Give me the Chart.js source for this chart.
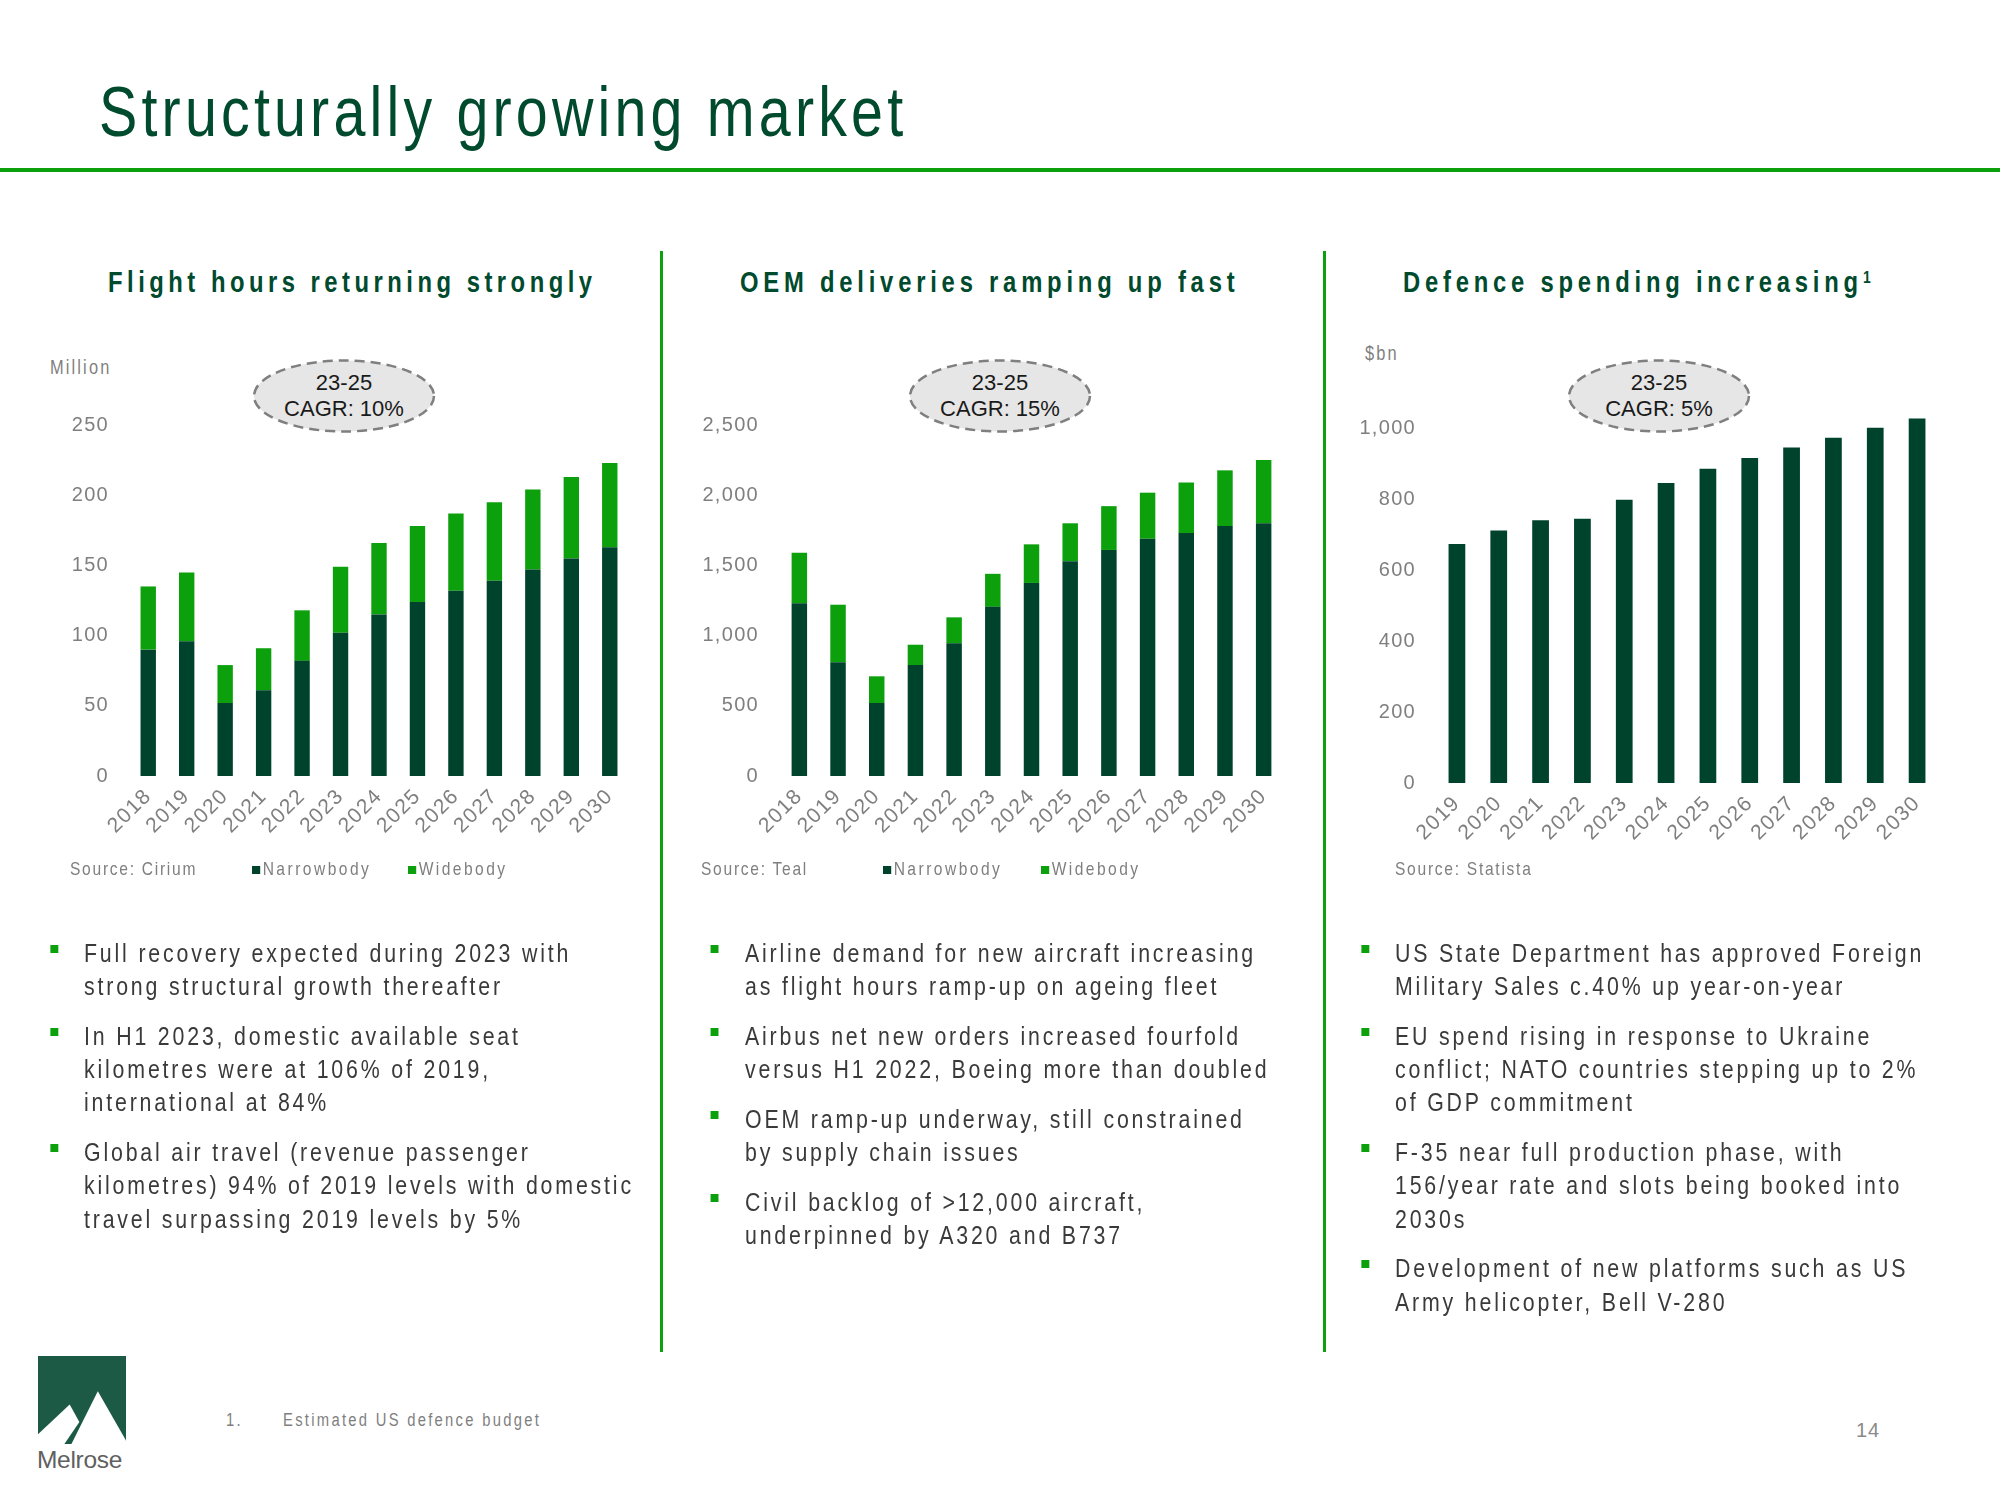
<!DOCTYPE html>
<html>
<head>
<meta charset="utf-8">
<script src="https://cdn.jsdelivr.net/npm/chart.js@4.4.1/dist/chart.umd.min.js"></script>
<style>
  body { margin:0; width:2000px; height:1500px; background:#fff; position:relative; overflow:hidden;
         font-family:'Liberation Sans Narrow','Liberation Sans',Arial,sans-serif; }
  .abs { position:absolute; white-space:nowrap; }
  /* no narrow face installed, so squeeze the regular one */
  .narrow { transform:scaleX(0.82); transform-origin:0 0; }
  #title { left:99px; top:77px; font-size:70px; line-height:70px; color:#004a2e; letter-spacing:5.1px; }
  #rule { left:0; top:168px; width:2000px; height:4px; background:#0ca00c; }
  .divider { top:251px; width:3px; height:1101px; background:#0ca00c; }
  .sub { top:265px; font-size:29px; line-height:34px; font-weight:bold; color:#004a2e; letter-spacing:5.5px; }
  .sub sup { font-size:17px; letter-spacing:0; vertical-align:top; position:relative; top:-4px; }
  .unit { font-size:20px; line-height:24px; color:#7f7f7f; letter-spacing:2.6px; }
  .legend { top:857px; font-size:19px; line-height:24px; color:#7f7f7f; letter-spacing:2.1px; }
  .legend.series { letter-spacing:3px; }
  .sq { display:inline-block; width:10px; height:8px; margin-right:3px; vertical-align:1px; }
  .bubble-text { font-family:'Liberation Sans',Arial,sans-serif; font-size:22px; line-height:26px; color:#1a1a1a; text-align:center; transform:translateX(-50%); }
  .col { top:937px; font-size:26px; line-height:33.2px; color:#3a3a3a; letter-spacing:3.45px; }
  .col p { margin:0 0 16.6px 0; position:relative; }
  .col p::before { content:''; position:absolute; width:10.4px; height:8.5px; background:#0ca00c; top:7.5px; left:var(--bx); }
  canvas { position:absolute; }
</style>
</head>
<body>
<div id="title" class="abs narrow">Structurally growing market</div>
<div id="rule" class="abs"></div>
<div class="abs divider" style="left:660px"></div>
<div class="abs divider" style="left:1323px"></div>

<div class="abs sub narrow" style="left:108px">Flight hours returning strongly</div>
<div class="abs sub narrow" style="left:740px;letter-spacing:5.85px">OEM deliveries ramping up fast</div>
<div class="abs sub narrow" style="left:1403px;letter-spacing:5.85px">Defence spending increasing<sup>1</sup></div>

<div class="abs unit narrow" style="left:50px;top:355px">Million</div>
<div class="abs unit narrow" style="left:1365px;top:341px">$bn</div>

<svg class="abs" style="left:252px;top:358px" width="184" height="76"><ellipse cx="92" cy="38" rx="90" ry="35.5" fill="#e6e6e6" stroke="#7f7f7f" stroke-width="2.5" stroke-dasharray="10 6"/></svg>
<svg class="abs" style="left:908px;top:358px" width="184" height="76"><ellipse cx="92" cy="38" rx="90" ry="35.5" fill="#e6e6e6" stroke="#7f7f7f" stroke-width="2.5" stroke-dasharray="10 6"/></svg>
<svg class="abs" style="left:1567px;top:358px" width="184" height="76"><ellipse cx="92" cy="38" rx="90" ry="35.5" fill="#e6e6e6" stroke="#7f7f7f" stroke-width="2.5" stroke-dasharray="10 6"/></svg>
<div class="abs bubble-text" style="left:344px;top:370px">23-25<br>CAGR: 10%</div>
<div class="abs bubble-text" style="left:1000px;top:370px">23-25<br>CAGR: 15%</div>
<div class="abs bubble-text" style="left:1659px;top:370px">23-25<br>CAGR: 5%</div>

<canvas id="flightChart" width="610" height="470" style="left:40px;top:400px"></canvas>
<canvas id="oemChart" width="620" height="470" style="left:680px;top:400px"></canvas>
<canvas id="defChart" width="620" height="508" style="left:1340px;top:370px"></canvas>

<div class="abs legend narrow" style="left:70px">Source: Cirium</div>
<div class="abs legend series narrow" style="left:252px"><span class="sq" style="background:#00432c"></span>Narrowbody</div>
<div class="abs legend series narrow" style="left:408px"><span class="sq" style="background:#0ca00c"></span>Widebody</div>
<div class="abs legend narrow" style="left:701px">Source: Teal</div>
<div class="abs legend series narrow" style="left:883px"><span class="sq" style="background:#00432c"></span>Narrowbody</div>
<div class="abs legend series narrow" style="left:1041px"><span class="sq" style="background:#0ca00c"></span>Widebody</div>
<div class="abs legend narrow" style="left:1395px">Source: Statista</div>

<div class="abs col narrow" style="left:84px;--bx:-41.5px">
  <p>Full recovery expected during 2023 with<br>strong structural growth thereafter</p>
  <p>In H1 2023, domestic available seat<br>kilometres were at 106% of 2019,<br>international at 84%</p>
  <p>Global air travel (revenue passenger<br>kilometres) 94% of 2019 levels with domestic<br>travel surpassing 2019 levels by 5%</p>
</div>
<div class="abs col narrow" style="left:745px;--bx:-42.5px">
  <p>Airline demand for new aircraft increasing<br>as flight hours ramp-up on ageing fleet</p>
  <p>Airbus net new orders increased fourfold<br>versus H1 2022, Boeing more than doubled</p>
  <p>OEM ramp-up underway, still constrained<br>by supply chain issues</p>
  <p>Civil backlog of &gt;12,000 aircraft,<br>underpinned by A320 and B737</p>
</div>
<div class="abs col narrow" style="left:1395px;--bx:-41.5px">
  <p>US State Department has approved Foreign<br>Military Sales c.40% up year-on-year</p>
  <p>EU spend rising in response to Ukraine<br>conflict; NATO countries stepping up to 2%<br>of GDP commitment</p>
  <p>F-35 near full production phase, with<br>156/year rate and slots being booked into<br>2030s</p>
  <p>Development of new platforms such as US<br>Army helicopter, Bell V-280</p>
</div>

<svg class="abs" style="left:38px;top:1356px" width="88" height="88" viewBox="0 0 100 100">
  <rect width="100" height="100" fill="#1c5a45"/>
  <polygon points="0,89 36,55 47,75 30,100 0,100" fill="#fff"/>
  <polygon points="68,40 100,96 100,100 38,100" fill="#fff"/>
</svg>
<div class="abs" style="left:37px;top:1446px;font-family:'Liberation Sans',Arial,sans-serif;font-size:24.5px;line-height:28px;color:#606060;letter-spacing:-0.3px">Melrose</div>

<div class="abs narrow" style="left:226px;top:1409px;font-size:18px;line-height:22px;color:#7f7f7f;letter-spacing:2.8px">1.</div>
<div class="abs narrow" style="left:283px;top:1409px;font-size:18px;line-height:22px;color:#7f7f7f;letter-spacing:2.8px">Estimated US defence budget</div>
<div class="abs" style="left:1856px;top:1418px;font-size:20px;line-height:24px;color:#8a8a8a;letter-spacing:1px">14</div>

<script>
const flightYears = ['2018','2019','2020','2021','2022','2023','2024','2025','2026','2027','2028','2029','2030'];
const flightNarrow = [90, 96, 52, 61, 82, 102, 115, 124, 132, 139, 147, 155, 163];
const flightWide = [45, 49, 27, 30, 36, 47, 51, 54, 55, 56, 57, 58, 60];

const oemYears = ['2018','2019','2020','2021','2022','2023','2024','2025','2026','2027','2028','2029','2030'];
const oemNarrow = [1230, 810, 520, 790, 945, 1205, 1375, 1530, 1610, 1690, 1730, 1780, 1800];
const oemWide = [360, 410, 190, 145, 185, 235, 275, 270, 312, 328, 360, 397, 451];

const defYears = ['2019','2020','2021','2022','2023','2024','2025','2026','2027','2028','2029','2030'];
const defSpend = [674, 712, 741, 745, 799, 846, 886, 917, 946, 974, 1002, 1028];

const DARK = '#00432c';
const BRIGHT = '#0ca00c';
const GREY = '#7f7f7f';
const FONT = "'Liberation Sans Narrow','Liberation Sans',Arial,sans-serif";

// canvas text gets a bit of tracking like the slide
const tracking = {
  id: 'tracking',
  beforeLayout(c) { c.ctx.letterSpacing = '1.3px'; },
  beforeDraw(c) { c.ctx.letterSpacing = '1.3px'; }
};

function makeChart(id, labels, datasets, y, box) {
  return new Chart(document.getElementById(id), {
    type: 'bar',
    data: { labels: labels, datasets: datasets },
    options: {
      responsive: false,
      animation: false,
      layout: { padding: { top: box.top, right: box.right, left: 0, bottom: 0 } },
      plugins: { legend: { display: false }, tooltip: { enabled: false } },
      datasets: { bar: { barPercentage: 0.4, categoryPercentage: 1 } },
      scales: {
        x: {
          stacked: true,
          grid: { display: false, drawTicks: false },
          border: { display: false },
          ticks: { color: GREY, font: { family: FONT, size: 21 }, minRotation: 45, maxRotation: 45, autoSkip: false, padding: 8 },
          afterFit: a => { a.height = box.xh; }
        },
        y: {
          stacked: true,
          min: 0,
          max: y.max,
          grid: { display: false, drawTicks: false },
          border: { display: false },
          ticks: { stepSize: y.step, color: GREY, font: { family: FONT, size: 20 }, padding: box.pad },
          afterBuildTicks: a => { a.ticks = a.ticks.filter(t => t.value <= y.top); },
          // keep the plot box where it was put, labels may overhang
          afterFit: a => { a.width = box.yw; a.paddingTop = 0; a.paddingBottom = 0; }
        }
      }
    },
    plugins: [tracking]
  });
}

makeChart('flightChart', flightYears, [
  { label: 'Narrowbody', data: flightNarrow, backgroundColor: DARK },
  { label: 'Widebody', data: flightWide, backgroundColor: BRIGHT }
], { max: 250, step: 50, top: 250 }, { top: 25, right: 21, xh: 94, yw: 89, pad: 20 });

makeChart('oemChart', oemYears, [
  { label: 'Narrowbody', data: oemNarrow, backgroundColor: DARK },
  { label: 'Widebody', data: oemWide, backgroundColor: BRIGHT }
], { max: 2500, step: 500, top: 2500 }, { top: 25, right: 17, xh: 94, yw: 100, pad: 21 });

makeChart('defChart', defYears, [
  { label: 'Defence spend', data: defSpend, backgroundColor: DARK }
], { max: 1100, step: 200, top: 1000 }, { top: 23, right: 22, xh: 95, yw: 96, pad: 20 });
</script>
</body>
</html>
